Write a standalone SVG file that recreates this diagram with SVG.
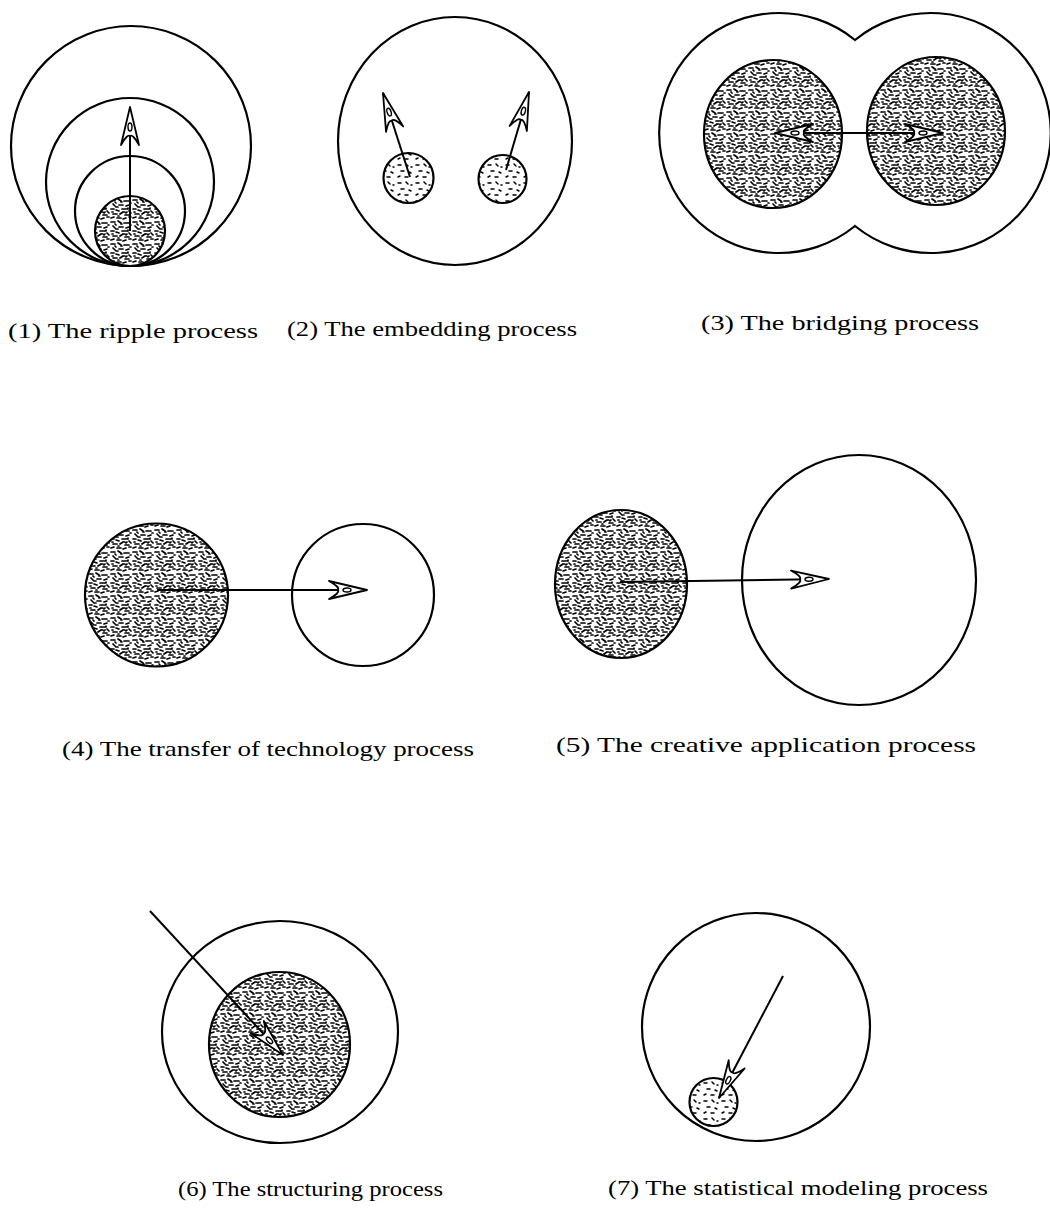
<svg xmlns="http://www.w3.org/2000/svg" width="1050" height="1225" viewBox="0 0 1050 1225">
<style>
.o{fill:none;stroke:#000;stroke-width:2.2}
.s{fill:url(#spk);stroke:#000;stroke-width:2.2}
.sl{fill:url(#spl);stroke:#000;stroke-width:2.2}
.c{fill:none;stroke:#000;stroke-width:2}
.lbl{font-family:"Liberation Serif","DejaVu Serif",serif;font-size:21px;fill:#000}
</style>
<defs>
<pattern id="spk" width="22" height="22" patternUnits="userSpaceOnUse">
<rect width="22" height="22" fill="#fff"/>
<path d="M1,2h4 M8,1l3,2 M14,3h5 M3,6l2,2 M9,7h4 M16,8l3,-1 M1,11h3 M6,12l3,1 M12,11h5 M19,13l2,2 M3,16h4 M10,16l3,-2 M15,17h4 M1,20l3,-1 M7,20h4 M13,21l3,-1 M19,19h2 M5,4l1,1 M20,5h1 M11,4h1 M2,14h1 M17,14l-1,1 M8,18h1 M6,9h2 M13,14h2 M18,10v1" stroke="#000" stroke-width="1.7" fill="none" stroke-linecap="round"/>
</pattern>
<pattern id="spl" width="18" height="18" patternUnits="userSpaceOnUse">
<rect width="18" height="18" fill="#fff"/>
<path d="M2,3h3 M10,2l2,2 M5,9h3 M13,10l2,1 M2,15l2,-1 M9,15h3 M15,5h1" stroke="#000" stroke-width="1.5" fill="none" stroke-linecap="round"/>
</pattern>
<marker id="ah" markerUnits="userSpaceOnUse" viewBox="-44 -12 46 24" markerWidth="46" markerHeight="24" refX="0" refY="0" orient="auto-start-reverse">
<path d="M0,0 L-38,-9 Q-27,-3 -29,0 Q-27,3 -38,9 Z" fill="#fff" stroke="#000" stroke-width="1.8" stroke-linejoin="round"/>
<ellipse cx="-20" cy="0" rx="4" ry="2" fill="none" stroke="#000" stroke-width="1.4"/>
</marker>
</defs>
<rect width="1050" height="1225" fill="#fff"/>

<g id="p1">
<circle class="o" cx="131" cy="146" r="120"/>
<circle class="o" cx="130" cy="182" r="84"/>
<circle class="o" cx="130" cy="211" r="55"/>
<circle class="s" cx="130" cy="231" r="35"/>
</g>
<g id="p2">
<ellipse class="o" cx="455" cy="141" rx="117" ry="124"/>
<circle class="sl" cx="408.5" cy="178" r="25"/>
<circle class="sl" cx="502.5" cy="179" r="24"/>
</g>
<g id="p3">
<path class="o" d="M855,40 A120,120 0 1 0 855,226 A120,120 0 1 0 855,40 Z"/>
<ellipse class="s" cx="773" cy="134" rx="69" ry="74"/>
<ellipse class="s" cx="936" cy="131" rx="69" ry="74"/>
</g>
<g id="p4">
<circle class="s" cx="156.5" cy="595" r="71.5"/>
<circle class="o" cx="363" cy="595" r="71"/>
</g>
<g id="p5">
<ellipse class="s" cx="621" cy="584" rx="66" ry="74"/>
<ellipse class="o" cx="859" cy="580" rx="117" ry="125"/>
</g>
<g id="p6">
<ellipse class="o" cx="280" cy="1032" rx="118" ry="111"/>
<ellipse class="s" cx="279.5" cy="1044.5" rx="70.5" ry="72.5"/>
</g>
<g id="p7">
<circle class="o" cx="756" cy="1027" r="114"/>
<circle class="sl" cx="713.5" cy="1102" r="24"/>
</g>

<g id="connectors">
<line class="c" x1="130" y1="231" x2="130" y2="107" marker-end="url(#ah)"/>
<line class="c" x1="410" y1="177" x2="383" y2="93" marker-end="url(#ah)"/>
<line class="c" x1="506" y1="170" x2="529" y2="92" marker-end="url(#ah)"/>
<line class="c" x1="775" y1="133" x2="943" y2="133" marker-start="url(#ah)" marker-end="url(#ah)"/>
<line class="c" x1="157" y1="590" x2="367" y2="590" marker-end="url(#ah)"/>
<line class="c" x1="620" y1="582" x2="829" y2="579" marker-end="url(#ah)"/>
<line class="c" x1="150" y1="911" x2="283" y2="1055" marker-end="url(#ah)"/>
<line class="c" x1="783" y1="976" x2="719" y2="1098" marker-end="url(#ah)"/>
</g>

<g id="labels">
<text class="lbl" x="8" y="338" textLength="250" lengthAdjust="spacingAndGlyphs">(1) The ripple process</text>
<text class="lbl" x="287" y="336" textLength="290" lengthAdjust="spacingAndGlyphs">(2) The embedding process</text>
<text class="lbl" x="701" y="330" textLength="278" lengthAdjust="spacingAndGlyphs">(3) The bridging process</text>
<text class="lbl" x="62" y="756" textLength="412" lengthAdjust="spacingAndGlyphs">(4) The transfer of technology process</text>
<text class="lbl" x="556" y="752" textLength="420" lengthAdjust="spacingAndGlyphs">(5) The creative application process</text>
<text class="lbl" x="178" y="1196" textLength="265" lengthAdjust="spacingAndGlyphs">(6) The structuring process</text>
<text class="lbl" x="608" y="1195" textLength="380" lengthAdjust="spacingAndGlyphs">(7) The statistical modeling process</text>
</g>
</svg>
